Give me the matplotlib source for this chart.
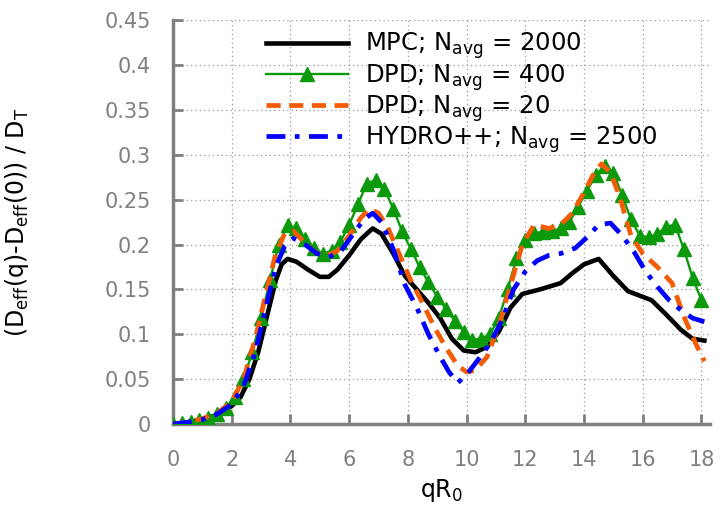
import matplotlib
matplotlib.use("Agg")
import matplotlib.pyplot as plt

# MPC; N_avg = 2000
x_mpc = [0, 0.5, 1.0, 1.5, 2.0, 2.3, 2.6, 2.9, 3.2, 3.5, 3.7, 3.9, 4.2, 4.6, 5.0, 5.3,
         5.6, 6.0, 6.4, 6.8, 7.1, 7.5, 7.9, 8.3, 8.7, 9.1, 9.5, 9.9, 10.3, 10.7, 11.1,
         11.5, 11.9, 12.5, 13.2, 13.6, 14.0, 14.5, 15.0, 15.5, 16.3, 16.8, 17.3, 17.7, 18.1]
y_mpc = [0.0, 0.002, 0.005, 0.01, 0.02, 0.03, 0.05, 0.08, 0.12, 0.16, 0.178, 0.184, 0.181,
         0.172, 0.164, 0.164, 0.172, 0.188, 0.206, 0.218, 0.212, 0.19, 0.165, 0.15, 0.135,
         0.118, 0.095, 0.082, 0.08, 0.086, 0.103, 0.13, 0.145, 0.15, 0.157, 0.168, 0.178,
         0.184, 0.165, 0.148, 0.138, 0.122, 0.105, 0.095, 0.093]

# DPD; N_avg = 400
x_dpd400 = [0, 0.3, 0.6, 0.9, 1.2, 1.5, 1.8, 2.1, 2.4, 2.7, 3.0, 3.3, 3.6, 3.9, 4.2, 4.5,
            4.8, 5.1, 5.4, 5.7, 6.0, 6.3, 6.6, 6.9, 7.2, 7.5, 7.8, 8.1, 8.4, 8.7, 9.0, 9.3,
            9.6, 9.9, 10.2, 10.5, 10.8, 11.1, 11.4, 11.7, 12.0, 12.3, 12.6, 12.9, 13.2,
            13.5, 13.8, 14.1, 14.4, 14.7, 15.0, 15.3, 15.6, 15.9, 16.2, 16.5, 16.8, 17.1,
            17.4, 17.7, 18.0]
y_dpd400 = [0.0, 0.001, 0.002, 0.004, 0.007, 0.011, 0.018, 0.03, 0.05, 0.08, 0.118, 0.16,
            0.2, 0.222, 0.218, 0.206, 0.196, 0.19, 0.193, 0.203, 0.222, 0.245, 0.268, 0.272,
            0.262, 0.24, 0.215, 0.195, 0.175, 0.158, 0.142, 0.128, 0.115, 0.103, 0.094,
            0.095, 0.1, 0.118, 0.15, 0.185, 0.205, 0.213, 0.214, 0.215, 0.218, 0.225, 0.242,
            0.26, 0.277, 0.288, 0.28, 0.255, 0.228, 0.21, 0.208, 0.212, 0.22, 0.222, 0.195,
            0.163, 0.138]

# DPD; N_avg = 20
x_dpd20 = [0, 0.5, 1.0, 1.5, 2.0, 2.4, 2.8, 3.2, 3.5, 3.8, 4.1, 4.4, 4.8, 5.2, 5.6, 6.0,
           6.4, 6.7, 7.0, 7.3, 7.7, 8.1, 8.5, 8.9, 9.3, 9.7, 10.0, 10.3, 10.7, 11.1, 11.5,
           11.9, 12.3, 12.8, 13.2, 13.6, 14.0, 14.3, 14.6, 14.9, 15.2, 15.6, 16.0, 16.5,
           17.0, 17.4, 17.8, 18.1]
y_dpd20 = [0.0, 0.002, 0.006, 0.012, 0.025, 0.05, 0.095, 0.15, 0.19, 0.212, 0.215, 0.205,
           0.192, 0.187, 0.193, 0.21, 0.23, 0.24, 0.235, 0.22, 0.19, 0.16, 0.135, 0.108,
           0.085, 0.065, 0.058, 0.06, 0.075, 0.11, 0.155, 0.2, 0.222, 0.218, 0.222, 0.235,
           0.258, 0.277, 0.29, 0.28, 0.255, 0.21, 0.19, 0.175, 0.157, 0.12, 0.09, 0.07]

# HYDRO++; N_avg = 2500
x_hydro = [0, 0.5, 1.0, 1.5, 2.0, 2.4, 2.8, 3.2, 3.5, 3.8, 4.1, 4.5, 4.9, 5.3, 5.7, 6.1,
           6.5, 6.8, 7.1, 7.5, 7.9, 8.3, 8.7, 9.1, 9.4, 9.7, 10.0, 10.4, 10.8, 11.2, 11.6,
           12.0, 12.4, 12.8, 13.2, 13.7, 14.1, 14.5, 14.9, 15.3, 15.7, 16.1, 16.5, 16.9,
           17.3, 17.7, 18.1]
y_hydro = [0.0, 0.002, 0.005, 0.011, 0.022, 0.042, 0.08, 0.135, 0.175, 0.198, 0.207, 0.2,
           0.19, 0.186, 0.192, 0.21, 0.228, 0.235, 0.225, 0.195, 0.155, 0.13, 0.1, 0.075,
           0.058, 0.046, 0.055, 0.072, 0.09, 0.115, 0.15, 0.17, 0.182, 0.188, 0.19, 0.196,
           0.208, 0.222, 0.224, 0.21, 0.192, 0.17, 0.153, 0.138, 0.127, 0.118, 0.114]

labels = ["MPC; N$_{\\mathregular{avg}}$ = 2000",
          "DPD; N$_{\\mathregular{avg}}$ = 400",
          "DPD; N$_{\\mathregular{avg}}$ = 20",
          "HYDRO++; N$_{\\mathregular{avg}}$ = 2500"]
x_ticks = [0, 2, 4, 6, 8, 10, 12, 14, 16, 18]
y_ticks = [0, 0.05, 0.1, 0.15, 0.2, 0.25, 0.3, 0.35, 0.4, 0.45]
y_ticklabels = ["0", "0.05", "0.1", "0.15", "0.2", "0.25", "0.3", "0.35", "0.4", "0.45"]

plt.rcParams['font.family'] = ['DejaVu Sans']

grey = '#808080'

fig = plt.figure(figsize=(7.24, 5.19), dpi=100)
ax = fig.add_axes([0.2390, 0.183, 0.742, 0.778])

ax.plot(x_mpc, y_mpc, color='black', lw=3.3, label=labels[0], zorder=3)
ax.plot(x_dpd400, y_dpd400, color='#0c9a0c', lw=1.7, marker='^', markersize=10,
        label=labels[1], zorder=4)
ax.plot(x_dpd20, y_dpd20, color='#f25c05', lw=3.4, dashes=(3, 1.8), label=labels[2],
        zorder=5)
ax.plot(x_hydro, y_hydro, color='#0000ff', lw=3.4, dashes=(4, 2, 1, 2), label=labels[3],
        zorder=6)

ax.set_xlim(0, 18.3)
ax.set_ylim(0, 0.45)
ax.set_xticks(x_ticks)
ax.set_yticks(y_ticks)
ax.set_yticklabels(y_ticklabels)
ax.grid(True, color='#999999', linestyle=(0, (1, 2.5)), lw=0.9)
ax.set_axisbelow(True)

for s in ['top', 'right']:
    ax.spines[s].set_visible(False)
for s in ['left', 'bottom']:
    ax.spines[s].set_color(grey)
    ax.spines[s].set_linewidth(2.5)
ax.tick_params(direction='in', length=7, width=2, color=grey, labelcolor=grey,
               labelsize=15)
ax.tick_params(axis='x', pad=19)
ax.tick_params(axis='y', pad=16)

ax.set_xlabel("qR$_{\\mathregular{0}}$", fontsize=17, labelpad=5)
ax.set_ylabel("(D$_{\\mathregular{eff}}$(q)-D$_{\\mathregular{eff}}$(0)) / D$_{\\mathregular{T}}$",
              fontsize=17)
ax.yaxis.set_label_coords(-0.265, 0.5)

ax.legend(loc='upper left', bbox_to_anchor=(0.145, 1.01), frameon=False, fontsize=17.5,
          handlelength=3.4, labelspacing=0.02, handletextpad=0.7, borderaxespad=0.2)

fig.savefig("out.png", dpi=100)
